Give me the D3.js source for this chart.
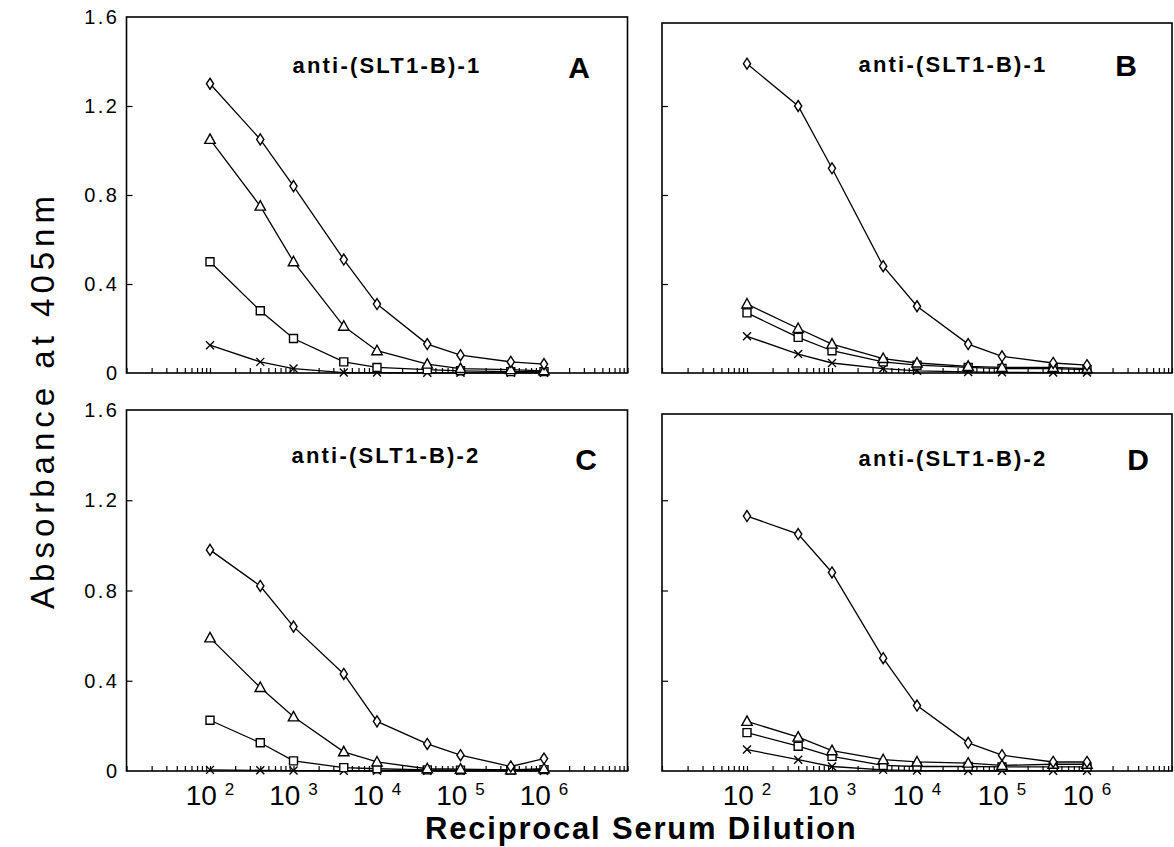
<!DOCTYPE html>
<html>
<head>
<meta charset="utf-8">
<title>Absorbance vs reciprocal serum dilution</title>
<script src="https://cdn.jsdelivr.net/npm/d3@7"></script>
<style>
  body { margin: 0; background: #fff; }
  text { font-family: "Liberation Sans", Arial, sans-serif; fill: #000; }
</style>
</head>
<body>
<svg id="chart" width="1174" height="847"></svg>
<script>
// dilution steps, shared by all four panels
var dilutions = [1e2, 4e2, 1e3, 4e3, 1e4, 4e4, 1e5, 4e5, 1e6];

var yTicks = [0, 0.4, 0.8, 1.2, 1.6];
var yTickLabels = ["0", "0.4", "0.8", "1.2", "1.6"];
var xTickExponents = [2, 3, 4, 5, 6];

var panelLetters = ["A", "B", "C", "D"];
var panelTitles = ["anti-(SLT1-B)-1", "anti-(SLT1-B)-1", "anti-(SLT1-B)-2", "anti-(SLT1-B)-2"];

// absorbance at 405nm
var diamondA  = [1.30, 1.05, 0.84, 0.51, 0.31, 0.13, 0.08, 0.05, 0.04];
var triangleA = [1.05, 0.75, 0.50, 0.21, 0.10, 0.04, 0.02, 0.015, 0.01];
var squareA   = [0.50, 0.28, 0.155, 0.05, 0.025, 0.015, 0.01, 0.006, 0.006];
var crossA    = [0.125, 0.05, 0.02, 0.002, 0.002, 0.001, 0.001, 0.001, 0.001];

var diamondB  = [1.39, 1.20, 0.92, 0.48, 0.30, 0.13, 0.075, 0.045, 0.035];
var triangleB = [0.31, 0.20, 0.13, 0.065, 0.045, 0.03, 0.025, 0.025, 0.02];
var squareB   = [0.27, 0.16, 0.10, 0.05, 0.035, 0.025, 0.02, 0.02, 0.015];
var crossB    = [0.165, 0.085, 0.045, 0.02, 0.01, 0.005, 0.003, 0.002, 0.002];

var diamondC  = [0.98, 0.82, 0.64, 0.43, 0.22, 0.12, 0.07, 0.02, 0.055];
var triangleC = [0.59, 0.37, 0.24, 0.085, 0.04, 0.01, 0.008, 0.005, 0.01];
var squareC   = [0.225, 0.125, 0.045, 0.015, 0.01, 0.005, 0.004, 0.004, 0.006];
var crossC    = [0.005, 0.003, 0.002, 0.001, 0.001, 0.001, 0.001, 0.001, 0.001];

var diamondD  = [1.13, 1.05, 0.88, 0.50, 0.29, 0.125, 0.07, 0.04, 0.04];
var triangleD = [0.22, 0.15, 0.09, 0.05, 0.04, 0.035, 0.025, 0.03, 0.03];
var squareD   = [0.17, 0.11, 0.065, 0.025, 0.02, 0.02, 0.018, 0.018, 0.018];
var crossD    = [0.095, 0.05, 0.02, 0.005, 0.002, 0.001, 0.001, 0.001, 0.001];

var panelSeries = [
  {cross: crossA, square: squareA, triangle: triangleA, diamond: diamondA},
  {cross: crossB, square: squareB, triangle: triangleB, diamond: diamondB},
  {cross: crossC, square: squareC, triangle: triangleC, diamond: diamondC},
  {cross: crossD, square: squareD, triangle: triangleD, diamond: diamondD}
];

// layout of the 2x2 grid (pixels); frameTop is where the scanned box edge sits
var layout = [
  {left: 126.5, right: 627.5, top: 17,  bottom: 373, frameTop: 17,  titleX: 387, titleY: 73,  letterX: 579,  letterY: 78,  yLabels: true,  xLabels: false},
  {left: 662,   right: 1172,  top: 17,  bottom: 373, frameTop: 23,  titleX: 953, titleY: 72,  letterX: 1126, letterY: 76,  yLabels: false, xLabels: false},
  {left: 126.5, right: 627.5, top: 410, bottom: 771, frameTop: 410, titleX: 386, titleY: 463, letterX: 586,  letterY: 470, yLabels: true,  xLabels: true},
  {left: 662,   right: 1172,  top: 410, bottom: 771, frameTop: 414, titleX: 953, titleY: 466, letterX: 1138, letterY: 470, yLabels: false, xLabels: true}
];

var markers = {
  diamond: "M0,-5.5L3.6,0L0,5.5L-3.6,0Z",
  triangle: "M0,-5.5L5.2,4L-5.2,4Z",
  square: "M-4,-4L4,-4L4,4L-4,4Z",
  cross: "M-4,-4L4,4M-4,4L4,-4"
};
var drawOrder = ["cross", "square", "triangle", "diamond"];

var svg = d3.select("#chart");

layout.forEach(function(p, i) {
  var x = d3.scaleLog().domain([1e1, 1e7]).range([p.left, p.right]);
  var y = d3.scaleLinear().domain([0, 1.6]).range([p.bottom, p.top]);
  var g = svg.append("g");

  // minor/major log ticks pointing inward
  g.append("g")
    .attr("transform", "translate(0," + p.bottom + ")")
    .call(d3.axisBottom(x).tickValues(x.ticks()).tickSizeInner(-5).tickSizeOuter(0).tickFormat(""))
    .call(function(a) { a.select(".domain").remove(); a.selectAll("line").attr("stroke-width", 1.2); });

  g.append("g")
    .attr("transform", "translate(" + p.left + ",0)")
    .call(d3.axisLeft(y).tickValues([0.4, 0.8, 1.2]).tickSizeInner(-6).tickSizeOuter(0).tickFormat(""))
    .call(function(a) { a.select(".domain").remove(); a.selectAll("line").attr("stroke-width", 1.2); });

  // frame
  g.append("rect")
    .attr("x", p.left).attr("y", p.frameTop)
    .attr("width", p.right - p.left).attr("height", p.bottom - p.frameTop)
    .attr("fill", "none").attr("stroke", "#000").attr("stroke-width", 1.6);

  if (p.yLabels) {
    g.selectAll(".ylab").data(yTicks).enter().append("text")
      .attr("x", p.left - 7)
      .attr("y", function(d) { return y(d); })
      .attr("dy", "0.36em")
      .attr("text-anchor", "end")
      .attr("font-size", 20)
      .attr("letter-spacing", 2.5)
      .text(function(d, k) { return yTickLabels[k]; });
  }

  if (p.xLabels) {
    var lab = g.selectAll(".xlab").data(xTickExponents).enter().append("text")
      .attr("x", function(d) { return x(Math.pow(10, d)); })
      .attr("y", p.bottom + 34)
      .attr("text-anchor", "middle")
      .attr("font-size", 28);
    lab.append("tspan").text("10");
    lab.append("tspan").attr("dx", 8).attr("dy", -10).attr("font-size", 17)
      .text(function(d) { return d; });
  }

  var line = d3.line()
    .x(function(d, k) { return x(dilutions[k]); })
    .y(function(d) { return y(d); });

  var series = panelSeries[i];
  drawOrder.forEach(function(key) {
    g.append("path")
      .datum(series[key])
      .attr("d", line)
      .attr("fill", "none")
      .attr("stroke", "#000")
      .attr("stroke-width", 1.3);
  });
  drawOrder.forEach(function(key) {
    g.selectAll(".m-" + key).data(series[key]).enter().append("path")
      .attr("transform", function(d, k) { return "translate(" + x(dilutions[k]) + "," + y(d) + ")"; })
      .attr("d", markers[key])
      .attr("fill", key === "cross" ? "none" : "#fff")
      .attr("stroke", "#000")
      .attr("stroke-width", 1.4);
  });

  g.append("text")
    .attr("x", p.titleX).attr("y", p.titleY)
    .attr("text-anchor", "middle")
    .attr("font-size", 22)
    .attr("font-weight", "bold")
    .attr("letter-spacing", 2.2)
    .text(panelTitles[i]);

  g.append("text")
    .attr("x", p.letterX).attr("y", p.letterY)
    .attr("text-anchor", "middle")
    .attr("font-size", 30)
    .attr("font-weight", "bold")
    .text(panelLetters[i]);
});

// axis titles
svg.append("text")
  .attr("transform", "translate(54,400) rotate(-90)")
  .attr("text-anchor", "middle")
  .attr("font-size", 33)
  .attr("letter-spacing", 5)
  .text("Absorbance at 405nm");

svg.append("text")
  .attr("x", 425).attr("y", 839)
  .attr("font-size", 31)
  .attr("font-weight", "bold")
  .attr("letter-spacing", 1.8)
  .text("Reciprocal Serum Dilution");
</script>
</body>
</html>
